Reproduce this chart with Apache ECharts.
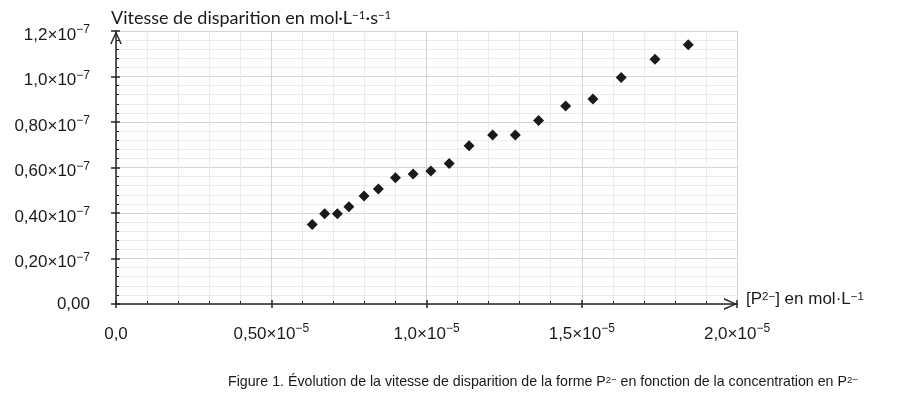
<!DOCTYPE html>
<html lang="fr">
<head>
<meta charset="utf-8">
<title>Vitesse de disparition de P2−</title>
<style>
  html, body { margin: 0; padding: 0; background: #fff; }
  #chart { width: 900px; height: 400px; }
</style>
</head>
<body>
<div id="chart"></div>
<script src="https://cdn.jsdelivr.net/npm/echarts@6/dist/echarts.min.js"></script>
<script>
// [P2-] en unités de 1e-5 mol/L
var concentrations = [0.632, 0.672, 0.713, 0.750, 0.799, 0.845, 0.900, 0.957, 1.014, 1.073,
                      1.137, 1.213, 1.286, 1.361, 1.448, 1.536, 1.627, 1.736, 1.843];
// vitesse de disparition en unités de 1e-7 mol/L/s
var vitesses = [0.349, 0.397, 0.397, 0.428, 0.475, 0.505, 0.555, 0.571, 0.585, 0.618,
                0.696, 0.743, 0.743, 0.807, 0.870, 0.901, 0.996, 1.076, 1.140];
// graduations ("^" = exposant)
var xTickLabels = ['0,0', '0,50×10^−5', '1,0×10^−5', '1,5×10^−5', '2,0×10^−5'];
var yTickLabels = ['0,00', '0,20×10^−7', '0,40×10^−7', '0,60×10^−7', '0,80×10^−7', '1,0×10^−7', '1,2×10^−7'];

(function () {
    var ink = '#1a1a1a';
    var arial = '"Liberation Sans", Arial, sans-serif';
    var calibri = 'Lato, "Open Sans", sans-serif';
    // chevron ouvert, pointe vers le haut (tourné par ECharts selon l'axe)
    var arrow = 'path://M5,0 L10,11 L8.7,11 L5,2.7 L1.3,11 L0,11 Z';

    // "1,0×10^−7" -> texte riche avec exposant ; sans exposant on prend le style "plain"
    function sup(s, plain) {
        var p = s.split('^');
        return p.length > 1 ? '{n|' + p[0] + '}{e|' + p[1] + '}' : '{' + plain + '|' + p[0] + '}';
    }

    var tickRich = {
        n: { fontSize: 17, lineHeight: 22, fontFamily: arial, color: ink },
        e: { fontSize: 12, lineHeight: 12, fontFamily: arial, color: ink, verticalAlign: 'top' },
        // "0,00" reste centré sur sa graduation (compense le padding du libellé)
        z: { fontSize: 17, lineHeight: 22, fontFamily: arial, color: ink, padding: [0, 0, 8, 0] }
    };

    var majorLine = { color: '#d4d4d4', width: 1 };
    var minorLine = { color: '#ebebeb', width: 1 };
    var axisLine = { show: true, symbol: ['none', arrow], symbolSize: [12, 13], symbolOffset: [0, -6.5],
                     lineStyle: { color: '#262626', width: 1.5 } };

    var chart = echarts.init(document.getElementById('chart'));
    chart.setOption({
        animation: false,
        title: {
            text: 'Figure 1. Évolution de la vitesse de disparition de la forme P{s|2−} en fonction de la concentration en P{s|2−}',
            left: 228,
            top: 375,
            padding: 0,
            textStyle: {
                fontSize: 14.2, fontWeight: 'normal', fontFamily: arial, color: ink,
                rich: {
                    s: { fontSize: 9.5, lineHeight: 10, fontFamily: arial, color: ink, verticalAlign: 'top' }
                }
            }
        },
        grid: { left: 116, right: 163, top: 31, bottom: 96 },
        xAxis: [{
            type: 'value', min: 0, max: 2, interval: 0.5,
            name: '[P{s|2−}] en mol·L{s|−1}',
            nameLocation: 'end', nameGap: 9,
            nameTextStyle: {
                fontSize: 17, fontFamily: arial, color: ink, verticalAlign: 'middle', padding: [0, 0, 10, 0],
                rich: { s: { fontSize: 11.5, lineHeight: 11, fontFamily: arial, color: ink, verticalAlign: 'top' } }
            },
            axisLine: axisLine,
            axisTick: { show: true, inside: true, length: 4, lineStyle: { color: '#262626', width: 1.5 } },
            minorTick: { show: true, splitNumber: 5, length: 3, lineStyle: { color: '#262626', width: 1 } },
            axisLabel: {
                margin: 19,
                formatter: function (v, i) { return sup(xTickLabels[i], 'n'); },
                rich: tickRich
            },
            splitLine: { show: true, lineStyle: majorLine },
            minorSplitLine: { show: true, lineStyle: minorLine }
        }, {
            // partie extérieure des graduations principales
            type: 'value', min: 0, max: 2, interval: 0.5, position: 'bottom',
            axisLine: { show: false },
            axisTick: { show: true, inside: false, length: 4, lineStyle: { color: '#262626', width: 1.5 } },
            axisLabel: { show: false },
            splitLine: { show: false }
        }],
        yAxis: [{
            type: 'value', min: 0, max: 1.2, interval: 0.2,
            name: 'Vitesse de disparition en mol·L{s|−1}·s{s|−1}',
            nameLocation: 'end', nameGap: 4,
            nameTextStyle: {
                fontSize: 18, fontFamily: calibri, color: ink, align: 'left', padding: [0, 0, 0, -5],
                rich: { s: { fontSize: 11.5, lineHeight: 11, fontFamily: calibri, color: ink, verticalAlign: 'top' } }
            },
            axisLine: axisLine,
            axisTick: { show: true, inside: true, length: 4, lineStyle: { color: '#262626', width: 1.5 } },
            minorTick: { show: true, splitNumber: 5, length: 3, lineStyle: { color: '#262626', width: 1 } },
            axisLabel: {
                margin: 26,
                padding: [8, 0, 0, 0],
                formatter: function (v) { return sup(yTickLabels[Math.round(v / 0.2)], 'z'); },
                rich: tickRich
            },
            splitLine: { show: true, lineStyle: majorLine },
            minorSplitLine: { show: true, lineStyle: minorLine }
        }, {
            type: 'value', min: 0, max: 1.2, interval: 0.2, position: 'left',
            axisLine: { show: false },
            axisTick: { show: true, inside: false, length: 5, lineStyle: { color: '#262626', width: 1.5 } },
            axisLabel: { show: false },
            splitLine: { show: false }
        }],
        series: [{
            type: 'scatter',
            symbol: 'diamond',
            symbolSize: 11,
            itemStyle: { color: ink, opacity: 1 },
            data: concentrations.map(function (c, i) { return [c, vitesses[i]]; })
        }]
    });
})();
</script>
</body>
</html>
